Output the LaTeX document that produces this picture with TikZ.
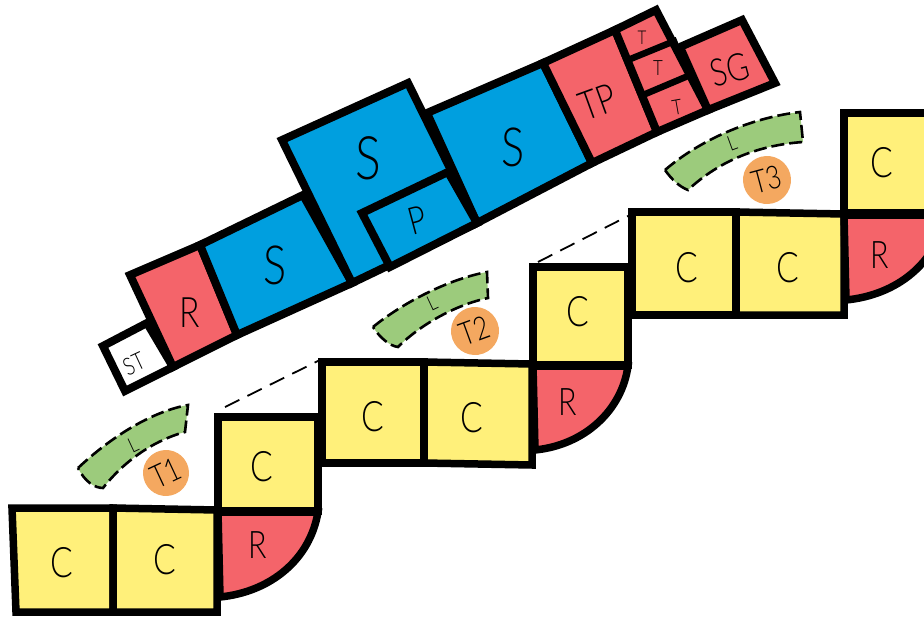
\documentclass[tikz,border=0pt]{standalone}
\usepackage{fontspec}
\setmainfont{Lato Light}[FakeStretch=0.8]
\definecolor{cblue}{HTML}{009FDF}
\definecolor{cred}{HTML}{F4646A}
\definecolor{cyel}{HTML}{FFF07A}
\definecolor{cgreen}{HTML}{9CCB7C}
\definecolor{corange}{HTML}{F4A860}
\tikzset{
  cell/.style={draw=black,line width=7.5pt,line join=miter},
  ucell/.style={draw=black,line width=8pt,line join=miter},
  rule/.style={draw=black,line width=6.5pt,line cap=butt},
  band/.style={fill=cgreen,draw=black,line width=2.6pt,dash pattern=on 13pt off 5pt},
  lead/.style={draw=black,line width=1.8pt,dash pattern=on 16pt off 9pt},
  badge/.style={circle,fill=corange,minimum size=48pt,inner sep=0pt,text=black},
  lab/.style={inner sep=0pt,text=black},
  fa/.style={font=\fontsize{42}{42}\selectfont},
  fb/.style={font=\fontsize{38}{38}\selectfont},
}
\begin{document}
\begin{tikzpicture}[x=1pt,y=-1pt]
\useasboundingbox (0,0) rectangle (924,618);
\clip (0,0) rectangle (924,618);
\fill[white] (0,0) rectangle (924,618);
% upper block
\draw[ucell,fill=white] (103,346) -- (147,323) -- (173,367) -- (125,391) -- cycle;
\draw[ucell,fill=cred] (130,275) -- (200,245) -- (237,335) -- (173,367) -- cycle;
\draw[ucell,fill=cblue] (200,245) -- (303,195) -- (352,283) -- (237,335) -- cycle;
\draw[ucell,fill=cblue] (427,113) -- (543,63) -- (592,163) -- (477,223) -- cycle;
\draw[ucell,fill=cblue] (282,140) -- (408,83) -- (477,223) -- (352,283) -- cycle;
\draw[ucell,fill=cblue] (362,213) -- (448,172) -- (477,223) -- (390,267) -- cycle;
\draw[ucell,fill=cred] (543,63) -- (615,30) -- (657,132) -- (592,163) -- cycle;
\draw[ucell,fill=cred] (615,30) -- (656,10) -- (708,110) -- (657,132) -- cycle;
\draw[ucell,fill=cred] (680,47) -- (742,20) -- (775,83) -- (708,110) -- cycle;
\coordinate (d1a) at (628,60); \coordinate (d1b) at (677,40);
\coordinate (d2a) at (643,95); \coordinate (d2b) at (688,76);
\draw[rule] (d1a) -- (d1b);
\draw[rule] (d2a) -- (d2b);
% lower row 1
\draw[cell,fill=cyel] (12,508) -- (113,508) -- (113,612) -- (16,612) -- cycle;
\draw[cell,fill=cyel] (113,508) -- (217,510) -- (217,612) -- (113,612) -- cycle;
\draw[cell,fill=cred] (218,512) -- (318,512) .. controls (310,560) and (270,592) .. (220,597) -- cycle;
\draw[cell,fill=cyel] (218,417) -- (318,417) -- (318,511) -- (218,511) -- cycle;
% lower row 2
\draw[cell,fill=cyel] (322,362) -- (424,362) -- (424,463) -- (322,463) -- cycle;
\draw[cell,fill=cyel] (424,362) -- (532,364) -- (532,465) -- (424,463) -- cycle;
\draw[cell,fill=cred] (533,366) -- (628,366) .. controls (622,410) and (585,445) .. (535,450) -- cycle;
\draw[cell,fill=cyel] (533,267) -- (628,267) -- (628,365) -- (533,365) -- cycle;
% lower row 3
\draw[cell,fill=cyel] (632,212) -- (736,212) -- (736,315) -- (632,315) -- cycle;
\draw[cell,fill=cyel] (736,212) -- (844,214) -- (844,315) -- (736,315) -- cycle;
\draw[cell,fill=cred] (844,215) -- (945,215) .. controls (937,263) and (897,295) .. (846,300) -- cycle;
\draw[cell,fill=cyel] (844,113) -- (945,113) -- (945,213) -- (844,213) -- cycle;
% dashed leads
\coordinate (l1a) at (225,407); \coordinate (l1b) at (320,360);
\coordinate (l2a) at (538,262); \coordinate (l2b) at (628,216);
\draw[lead] (l1a) -- (l1b);
\draw[lead] (l2a) -- (l2b);
% bands
\draw[band] (78,468) .. controls (110,438) and (150,412) .. (188,405) -- (185,432) .. controls (155,440) and (125,460) .. (103,488) .. controls (95,488) and (85,482) .. (78,468) -- cycle;
\draw[band] (373,327) .. controls (400,305) and (445,280) .. (487,272) -- (488,298) .. controls (455,305) and (420,325) .. (398,347) .. controls (390,346) and (380,338) .. (373,327) -- cycle;
\draw[band] (665,170) .. controls (700,140) and (750,118) .. (800,112) -- (803,142) .. controls (760,145) and (720,160) .. (688,190) .. controls (680,187) and (672,180) .. (665,170) -- cycle;
% badges
\node[badge,minimum size=46pt,font=\fontsize{32}{32}\selectfont,rotate=25] (b1) at (166,473) {T1};
\node[badge,font=\fontsize{32}{32}\selectfont,rotate=20] (b2) at (475,331) {T2};
\node[badge,font=\fontsize{32}{32}\selectfont,rotate=15] (b3) at (767,180) {T3};
% labels
\node[lab,font=\fontsize{24}{24}\selectfont,rotate=25] (tst) at (134,364) {ST};
\node[lab,font=\fontsize{42}{42}\selectfont] (tr0) at (190,313) {R};
\node[lab,font=\fontsize{54}{54}\selectfont] (ts1) at (275,265) {S};
\node[lab,font=\fontsize{60}{60}\selectfont] (ts2) at (368,158) {S};
\node[lab,font=\fontsize{38}{38}\selectfont,rotate=15] (tp) at (418,220) {P};
\node[lab,font=\fontsize{54}{54}\selectfont] (ts3) at (513,147) {S};
\node[lab,font=\fontsize{40}{40}\selectfont,rotate=20] (ttp) at (598,102) {TP};
\node[lab,font=\fontsize{19}{19}\selectfont] (tt1) at (642,38) {T};
\node[lab,font=\fontsize{21}{21}\selectfont] (tt2) at (658,68) {T};
\node[lab,font=\fontsize{21}{21}\selectfont,rotate=10] (tt3) at (677,107) {T};
\node[lab,font=\fontsize{38}{38}\selectfont,rotate=15] (tsg) at (730,70) {SG};
\node[lab,fa] (c1) at (62,563) {C};
\node[lab,fa] (c2) at (165,560) {C};
\node[lab,fa] (c3) at (262,467) {C};
\node[lab,fb] (r1) at (258,545) {R};
\node[lab,fa] (c4) at (373,417) {C};
\node[lab,fa] (c5) at (472,418) {C};
\node[lab,fa] (c6) at (578,312) {C};
\node[lab,fb] (r2) at (568,402) {R};
\node[lab,fa] (c7) at (687,268) {C};
\node[lab,fa] (c8) at (788,268) {C};
\node[lab,fa] (c9) at (882,163) {C};
\node[lab,fb] (r3) at (880,255) {R};
\node[lab,font=\fontsize{21}{21}\selectfont,rotate=25] (ll1) at (133,445) {L};
\node[lab,font=\fontsize{21}{21}\selectfont,rotate=25] (ll2) at (432,303) {L};
\node[lab,font=\fontsize{21}{21}\selectfont,rotate=20] (ll3) at (732,143) {L};
\end{tikzpicture}
\end{document}
